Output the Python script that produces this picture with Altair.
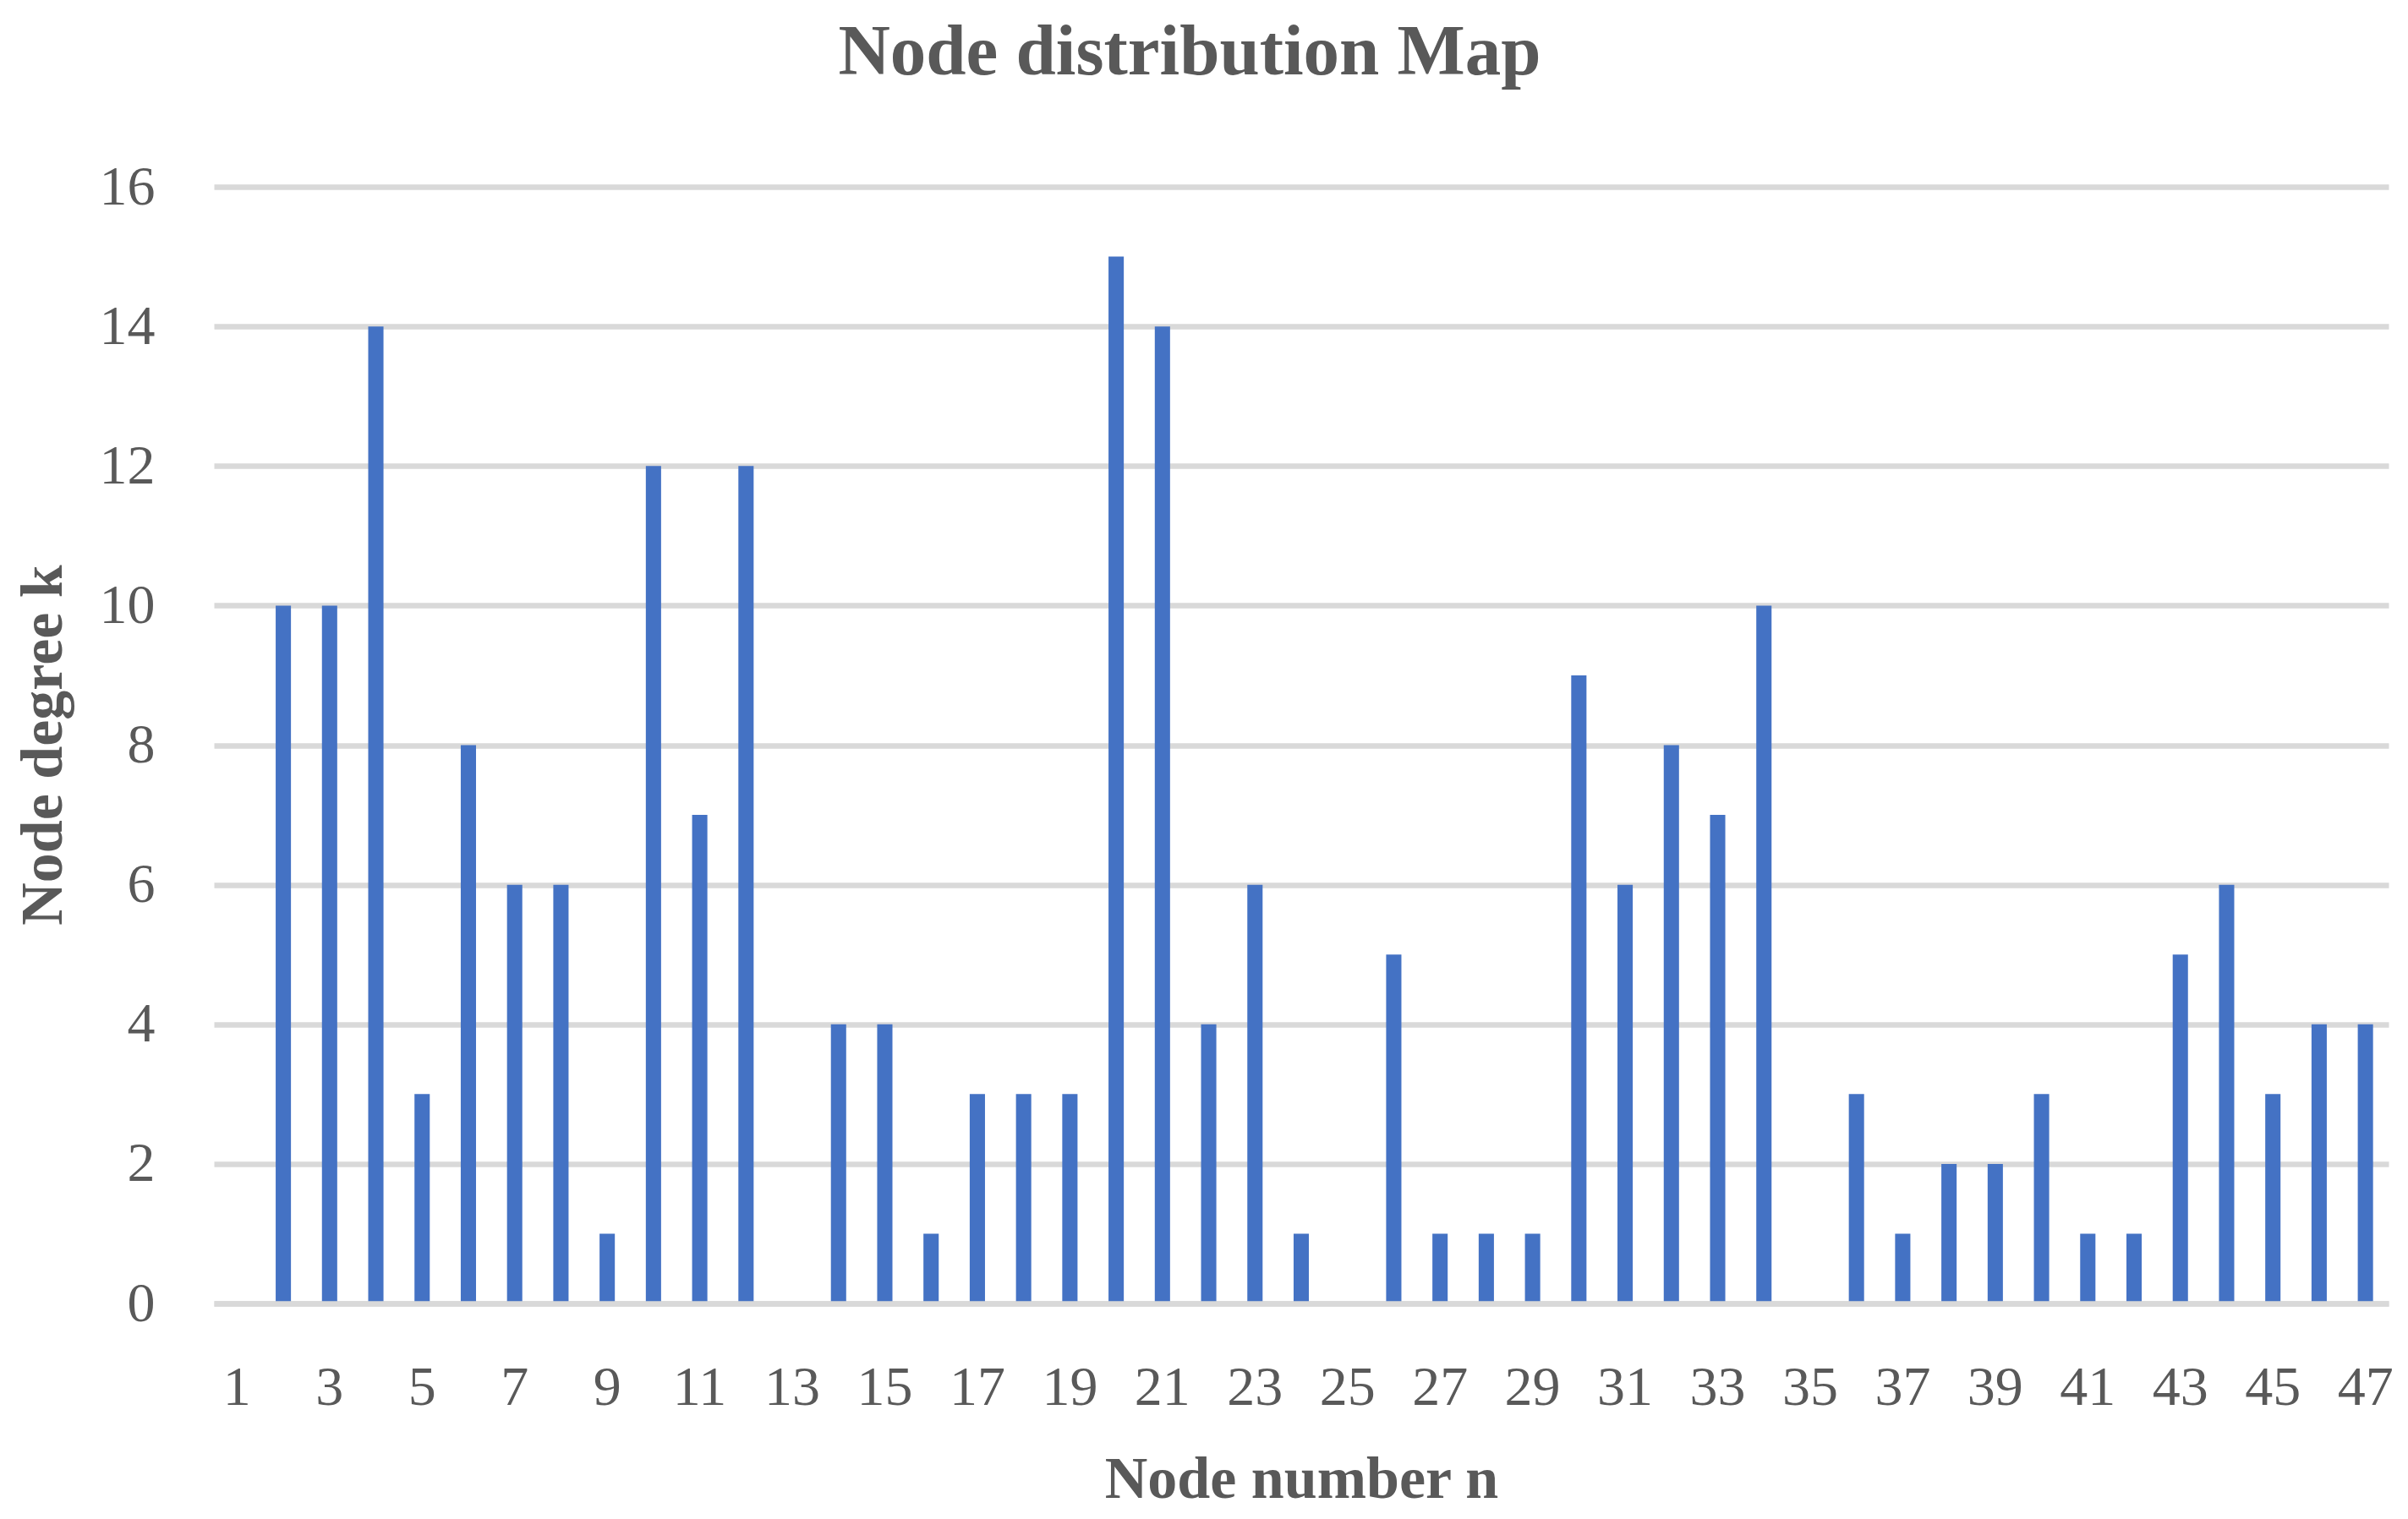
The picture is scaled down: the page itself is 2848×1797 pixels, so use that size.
import altair as alt
import pandas as pd

nodes = list(range(1, 48))
degrees = [0, 10, 10, 14, 3, 8, 6, 6, 1, 12, 7, 12, 0, 4, 4, 1, 3, 3, 3, 15,
           14, 4, 6, 1, 0, 5, 1, 1, 1, 9, 6, 8, 7, 10, 0, 3, 1, 2, 2, 3,
           1, 1, 5, 6, 3, 4, 4]
x_tick_labels = list(range(1, 48, 2))
y_ticks = [0, 2, 4, 6, 8, 10, 12, 14, 16]

df = pd.DataFrame({"node": nodes, "degree": degrees})

FONT = "Liberation Serif"
TXT = "#595959"
GRID = "#D9D9D9"

chart = alt.Chart(df).mark_bar(color="#4472C4").encode(
    x=alt.X(
        "node:O",
        sort=nodes,
        scale=alt.Scale(paddingInner=0.67, paddingOuter=0.335),
        axis=alt.Axis(
            title="Node number n",
            values=x_tick_labels,
            labelAngle=0,
            labelFont=FONT,
            labelFontSize=66,
            labelColor=TXT,
            labelBaseline="alphabetic",
            labelPadding=119,
            ticks=False,
            tickSize=0,
            domain=True,
            domainColor=GRID,
            domainWidth=6.5,
            grid=False,
            titleFont=FONT,
            titleFontSize=70,
            titleFontWeight="bold",
            titleColor=TXT,
            titleBaseline="alphabetic",
            titleY=229,
            zindex=1,
        ),
    ),
    y=alt.Y(
        "degree:Q",
        scale=alt.Scale(domain=[0, 16], nice=False),
        axis=alt.Axis(
            title="Node degree k",
            values=y_ticks,
            labelFont=FONT,
            labelFontSize=66,
            labelColor=TXT,
            labelPadding=70,
            ticks=False,
            tickSize=0,
            domain=False,
            grid=True,
            gridColor=GRID,
            gridWidth=6.5,
            titleFont=FONT,
            titleFontSize=70,
            titleFontWeight="bold",
            titleColor=TXT,
            titleBaseline="alphabetic",
            titleAngle=-90,
            titleAlign="center",
            titleX=-181,
            titleY=660,
        ),
    ),
).properties(
    width=2572,
    height=1321,
    background="white",
    title=alt.TitleParams(
        text="Node distribution Map",
        font=FONT,
        fontSize=85,
        fontWeight="bold",
        color=TXT,
        anchor="middle",
        frame="group",
        baseline="alphabetic",
        offset=15,
        dx=-132,
    ),
    autosize=alt.AutoSizeParams(type="none"),
    padding={"left": 245, "top": 213, "right": 10, "bottom": 247},
).configure_view(stroke=None)

chart.save("out.html", embed_options={"renderer": "svg", "actions": False})
